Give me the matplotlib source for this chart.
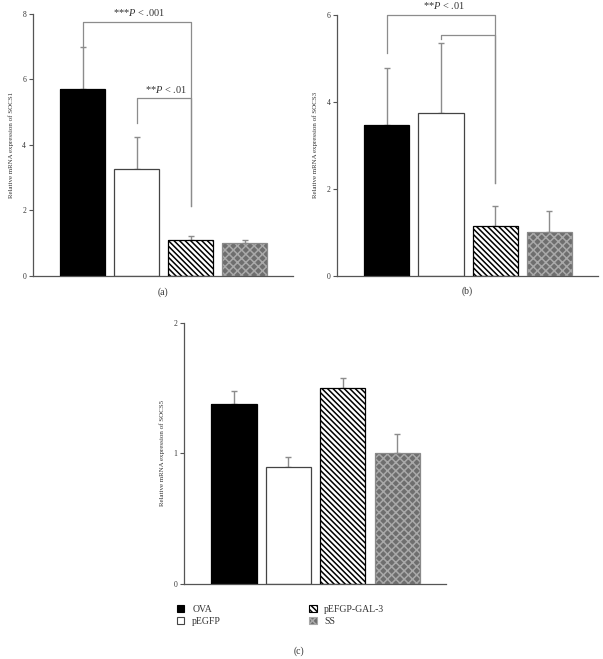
import numpy as np
import matplotlib
matplotlib.use("Agg")
import matplotlib.pyplot as plt
from matplotlib.patches import Patch

plt.rcParams['font.family'] = ['Liberation Serif', 'DejaVu Serif']
plt.rcParams['mathtext.fontset'] = 'custom'
plt.rcParams['mathtext.rm'] = 'Liberation Serif'
plt.rcParams['mathtext.it'] = 'Liberation Serif:italic'
plt.rcParams['hatch.linewidth'] = 1.1

groups = ['OVA', 'pEGFP', 'pEFGP-GAL-3', 'SS']

socs1_mean = [5.7, 3.28, 1.1, 1.0]
socs1_err = [1.28, 0.97, 0.12, 0.1]
socs1_ticks = [0, 2, 4, 6, 8]

socs3_mean = [3.46, 3.74, 1.15, 1.01]
socs3_err = [1.32, 1.62, 0.46, 0.47]
socs3_ticks = [0, 2, 4, 6]

socs5_mean = [1.38, 0.90, 1.50, 1.00]
socs5_err = [0.10, 0.07, 0.08, 0.15]
socs5_ticks = [0, 1, 2]

# brackets: (left bar, right bar, height, left foot, right foot, label)
socs1_brackets = [(0, 2, 7.75, 7.0, 2.15, '***$P$ < .001'),
                  (1, 2, 5.42, 4.67, 2.15, '**$P$ < .01')]
socs3_brackets = [(0, 2, 5.99, 5.13, 2.14, '**$P$ < .01'),
                  (1, 2, 5.54, 5.43, 2.14, None)]

face = ['black', 'white', 'white', '#6e6e6e']
edge = ['black', '#444444', 'black', '#8a8a8a']
hatch_col = ['black', '#444444', 'black', '#a9a9a9']
hatches = [None, None, '\\\\\\\\\\\\', 'xxxx']
grey = '#8c8c8c'


def draw_bars(ax, means, errs, ticks, ylabel, caption):
    x = np.arange(len(means))
    for i in range(len(means)):
        ax.bar(x[i], means[i], width=0.833, color=face[i], edgecolor=hatch_col[i],
               hatch=hatches[i], linewidth=0, zorder=2)
        ax.bar(x[i], means[i], width=0.833, fill=False, edgecolor=edge[i],
               linewidth=0.9, zorder=3)
    ax.errorbar(x, means, yerr=[np.zeros(len(errs)), errs], fmt='none',
                ecolor=grey, elinewidth=1, capsize=2.5, capthick=1, zorder=1)
    ax.set_xlim(-0.917, 3.898)
    ax.set_ylim(0, ticks[-1])
    ax.set_yticks(ticks)
    ax.set_xticks([])
    for s in ['top', 'right']:
        ax.spines[s].set_visible(False)
    for s in ['left', 'bottom']:
        ax.spines[s].set_color('#555555')
        ax.spines[s].set_linewidth(0.9)
    ax.tick_params(axis='y', direction='out', length=3, width=0.8,
                   colors='#555555', labelsize=5.5, labelcolor='#333333', pad=2)
    ax.set_ylabel(ylabel, fontsize=5, color='#333333', labelpad=6)
    ax.text(0.5, -0.06, caption, transform=ax.transAxes, ha='center',
            va='center', fontsize=7, color='#333333')


def draw_brackets(ax, brackets):
    for x0, x1, h, foot0, foot1, label in brackets:
        ax.plot([x0, x0, x1, x1], [foot0, h, h, foot1], color=grey,
                linewidth=0.9, zorder=4, clip_on=False)
        if label:
            ax.text((x0 + x1) / 2 + 0.05, h + 0.015 * ax.get_ylim()[1], label,
                    ha='center', va='bottom', fontsize=7.5, color='#333333')


fig = plt.figure(figsize=(6.03, 6.59), dpi=100)
ax_a = fig.add_axes([0.0547, 0.5812, 0.4312, 0.3976])
ax_b = fig.add_axes([0.5594, 0.5817, 0.4318, 0.3960])
ax_c = fig.add_axes([0.3056, 0.1134, 0.4340, 0.3970])

draw_bars(ax_a, socs1_mean, socs1_err, socs1_ticks, 'Relative mRNA expression of SOCS1', '(a)')
draw_brackets(ax_a, socs1_brackets)
draw_bars(ax_b, socs3_mean, socs3_err, socs3_ticks, 'Relative mRNA expression of SOCS3', '(b)')
draw_brackets(ax_b, socs3_brackets)
draw_bars(ax_c, socs5_mean, socs5_err, socs5_ticks, 'Relative mRNA expression of SOCS5', '')

handles = [Patch(facecolor=face[i], edgecolor=hatch_col[i], hatch=hatches[i],
                 linewidth=0.8) for i in range(4)]
for col, anchor in [(0, 0.293), (1, 0.512)]:
    leg = fig.legend(handles[2 * col:2 * col + 2], groups[2 * col:2 * col + 2],
                     loc='upper left', bbox_to_anchor=(anchor, 0.082),
                     frameon=False, fontsize=7, handlelength=0.8,
                     handleheight=0.8, handletextpad=0.8, labelspacing=0.3,
                     borderpad=0, borderaxespad=0)
    for t in leg.get_texts():
        t.set_color('#333333')

fig.text(0.496, 0.012, '(c)', ha='center', va='center', fontsize=7, color='#333333')

fig.savefig('out.png', dpi=100)
